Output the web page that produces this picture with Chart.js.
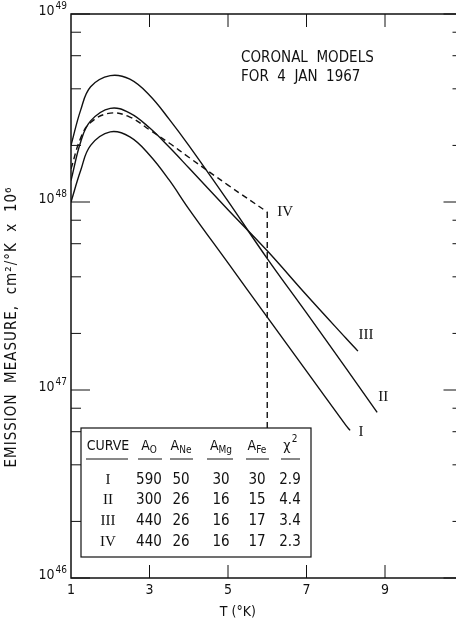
<!DOCTYPE html>
<html>
<head>
<meta charset="utf-8">
<script src="https://cdn.jsdelivr.net/npm/chart.js@4.4.1/dist/chart.umd.min.js"></script>
<style>
  html, body { margin: 0; padding: 0; background: #fff; overflow: hidden; }
  #wrap { width: 456px; height: 623px; overflow: hidden; }
</style>
</head>
<body>
<div id="wrap"><canvas id="emChart" width="464" height="623"></canvas></div>
<script>
// temperatures (10^6 K) and emission measures
const tempsI = [1, 1.25, 1.5, 2, 2.5, 3, 3.5, 4, 5, 6, 7, 8, 8.11];
const emI = [1.0e48, 1.48e48, 2.0e48, 2.36e48, 2.22e48, 1.78e48, 1.31e48, 9.2e47, 4.74e47, 2.44e47, 1.26e47, 6.5e46, 6.1e46];

const tempsII = [1, 1.25, 1.5, 2, 2.5, 3, 3.5, 4, 5, 6, 7, 8, 8.8];
const emII = [2.0e48, 3.1e48, 4.1e48, 4.7e48, 4.5e48, 3.7e48, 2.76e48, 2.0e48, 1.01e48, 5.0e47, 2.57e47, 1.31e47, 7.6e46];

const tempsIII = [1, 1.25, 1.5, 2, 2.5, 3, 3.5, 4, 5, 6, 7, 8, 8.31];
const emIII = [1.3e48, 2.1e48, 2.7e48, 3.15e48, 2.97e48, 2.48e48, 1.96e48, 1.52e48, 9.1e47, 5.5e47, 3.2e47, 1.89e47, 1.61e47];

const tempsIV = [1, 1.25, 1.5, 2, 2.5, 3, 3.5, 4, 5, 6];
const emIV = [1.5e48, 2.2e48, 2.65e48, 2.97e48, 2.83e48, 2.42e48, 2.06e48, 1.73e48, 1.23e48, 8.85e47];
const tempsIVDrop = [6, 6];
const emIVDrop = [8.85e47, 2e46];

const xTickLabels = [1, 3, 5, 7, 9];
const yDecades = [46, 47, 48, 49];

const tableHead = ['CURVE', 'A', 'A', 'A', 'A', 'χ'];
const tableSub = ['', 'O', 'Ne', 'Mg', 'Fe', ''];
const tableCurves = ['I', 'II', 'III', 'IV'];
const abundO = [590, 300, 440, 440];
const abundNe = [50, 26, 26, 26];
const abundMg = [30, 16, 16, 16];
const abundFe = [30, 15, 17, 17];
const chiSq = ['2.9', '4.4', '3.4', '2.3'];

const SANS = '"Liberation Sans Narrow", "DejaVu Sans Condensed", "Liberation Sans", sans-serif';
const SERIF = '"Liberation Serif", "DejaVu Serif", serif';

function pts(xs, ys) {
    return xs.map((t, i) => ({ x: t, y: ys[i] }));
}

function curve(label, xs, ys, dashed, tension) {
    return {
        label: label,
        data: pts(xs, ys),
        borderColor: '#111',
        borderWidth: 1.4,
        borderDash: dashed ? [6, 4] : [],
        pointRadius: 0,
        fill: false,
        tension: tension
    };
}

function seg(ctx, x1, y1, x2, y2) {
    ctx.beginPath();
    ctx.moveTo(x1, y1);
    ctx.lineTo(x2, y2);
    ctx.stroke();
}

const decorations = {
    id: 'decorations',
    afterDatasetsDraw(chart) {
        const { ctx, chartArea: a, scales: { x, y } } = chart;
        ctx.save();
        ctx.strokeStyle = '#111';
        ctx.fillStyle = '#111';
        ctx.lineWidth = 1.5;

        // frame
        ctx.strokeRect(a.left, a.top, a.right - a.left, a.bottom - a.top);

        // x ticks pointing inwards, top and bottom
        ctx.lineWidth = 1;
        [3, 5, 7, 9].forEach(t => {
            const px = x.getPixelForValue(t);
            seg(ctx, px, a.bottom, px, a.bottom - 13);
            seg(ctx, px, a.top, px, a.top + 13);
        });

        // y ticks, left and right
        yDecades.forEach(d => {
            const py = y.getPixelForValue(Math.pow(10, d));
            seg(ctx, a.left, py, a.left + 19, py);
            seg(ctx, a.right, py, a.right - 20, py);
            if (d < 49) {
                [2, 4, 6, 8].forEach(m => {
                    const pm = y.getPixelForValue(m * Math.pow(10, d));
                    seg(ctx, a.left, pm, a.left + 10, pm);
                    seg(ctx, a.right, pm, a.right - 11, pm);
                });
            }
        });

        // y tick labels 10^n
        yDecades.forEach(d => {
            const py = y.getPixelForValue(Math.pow(10, d));
            ctx.textBaseline = 'alphabetic';
            ctx.textAlign = 'right';
            ctx.font = '10px ' + SANS;
            ctx.fillText(String(d), a.left - 4, py - 5);
            const w = ctx.measureText(String(d)).width;
            ctx.font = '14px ' + SANS;
            ctx.fillText('10', a.left - 5 - w, py + 1);
        });

        // x tick labels
        ctx.font = '14px ' + SANS;
        ctx.textAlign = 'center';
        ctx.textBaseline = 'middle';
        xTickLabels.forEach(t => {
            ctx.fillText(String(t), x.getPixelForValue(t), a.bottom + 12);
        });

        // axis titles
        ctx.fillText('T (°K)', x.getPixelForValue(5.25), a.bottom + 34);
        ctx.save();
        ctx.translate(12, 327);
        ctx.rotate(-Math.PI / 2);
        ctx.font = '15px ' + SANS;
        ctx.letterSpacing = '1px';
        ctx.fillText('EMISSION  MEASURE,  cm²/°K  x  10⁶', 0, 0);
        ctx.restore();

        // caption
        ctx.font = '15px ' + SANS;
        ctx.textAlign = 'left';
        ctx.fillText('CORONAL  MODELS', 241, 58);
        ctx.fillText('FOR  4  JAN  1967', 241, 77);

        // curve labels beside the ends of the curves
        ctx.font = '15px ' + SERIF;
        ctx.textAlign = 'center';
        const endOf = (xs, ys) => [x.getPixelForValue(xs[xs.length - 1]), y.getPixelForValue(ys[ys.length - 1])];
        let e = endOf(tempsI, emI);
        ctx.fillText('I', e[0] + 11, e[1] + 2);
        e = endOf(tempsII, emII);
        ctx.fillText('II', e[0] + 6, e[1] - 15);
        e = endOf(tempsIII, emIII);
        ctx.fillText('III', e[0] + 8, e[1] - 16);
        ctx.fillText('IV', x.getPixelForValue(6) + 18, y.getPixelForValue(emIV[emIV.length - 1]));

        // parameter table
        const tx0 = 81, tx1 = 311, ty0 = 428, ty1 = 557;
        ctx.fillStyle = '#fff';
        ctx.fillRect(tx0, ty0, tx1 - tx0, ty1 - ty0);
        ctx.fillStyle = '#111';
        ctx.lineWidth = 1.2;
        ctx.strokeRect(tx0, ty0, tx1 - tx0, ty1 - ty0);

        const colX = [108, 149, 181, 221, 257, 290];
        const under = [[86, 128], [138, 162], [170, 193], [207, 233], [246, 269], [281, 300]];
        const headY = 446;
        tableHead.forEach((h, i) => {
            ctx.font = '14px ' + SANS;
            const sub = tableSub[i];
            ctx.textAlign = 'left';
            ctx.textBaseline = 'middle';
            const wMain = ctx.measureText(h).width;
            ctx.font = '10px ' + SANS;
            const wSub = sub ? ctx.measureText(sub).width : (i === 5 ? 6 : 0);
            const left = colX[i] - (wMain + wSub) / 2;
            ctx.font = '14px ' + SANS;
            ctx.fillText(h, left, headY);
            ctx.font = '10px ' + SANS;
            if (sub) ctx.fillText(sub, left + wMain, headY + 4);
            if (i === 5) ctx.fillText('2', left + wMain + 1, headY - 7);
        });
        ctx.lineWidth = 1;
        under.forEach(u => seg(ctx, u[0], 459, u[1], 459));

        const rowY = [480, 500, 521, 542];
        ctx.textAlign = 'center';
        tableCurves.forEach((c, r) => {
            ctx.font = '15px ' + SERIF;
            ctx.fillText(c, colX[0], rowY[r]);
            ctx.font = '15px ' + SANS;
            ctx.fillText(String(abundO[r]), colX[1], rowY[r]);
            ctx.fillText(String(abundNe[r]), colX[2], rowY[r]);
            ctx.fillText(String(abundMg[r]), colX[3], rowY[r]);
            ctx.fillText(String(abundFe[r]), colX[4], rowY[r]);
            ctx.fillText(chiSq[r], colX[5], rowY[r]);
        });

        ctx.restore();
    }
};

const canvas = document.getElementById('emChart');
new Chart(canvas.getContext('2d'), {
    type: 'line',
    data: {
        datasets: [
            curve('I', tempsI, emI, false, 0.4),
            curve('II', tempsII, emII, false, 0.4),
            curve('III', tempsIII, emIII, false, 0.4),
            curve('IV', tempsIV, emIV, true, 0.4),
            curve('IV drop', tempsIVDrop, emIVDrop, true, 0)
        ]
    },
    options: {
        responsive: false,
        animation: false,
        layout: { padding: { left: 71, right: 0.5, top: 14, bottom: 45 } },
        plugins: { legend: { display: false }, tooltip: { enabled: false } },
        scales: {
            x: { type: 'linear', min: 1, max: 11, display: false },
            y: { type: 'logarithmic', min: 1e46, max: 1e49, display: false }
        }
    },
    plugins: [decorations]
});
</script>
</body>
</html>
